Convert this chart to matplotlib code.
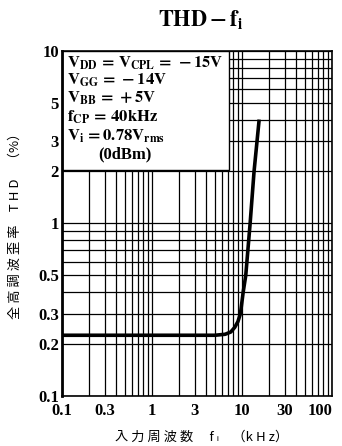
# THD vs input frequency chart

import matplotlib
matplotlib.use("Agg")
import matplotlib.pyplot as plt
from matplotlib.patches import Rectangle
from matplotlib.ticker import FixedLocator, NullFormatter

# curve
freq_khz = [0.1, 1, 5, 6.5, 7.5, 8.3, 9.0, 9.6, 10.3, 11.0, 12.3, 13.6, 15.5]
thd_pct = [0.225, 0.225, 0.225, 0.228, 0.235, 0.25, 0.27, 0.3, 0.4, 0.5, 1.0, 2.0, 4.0]

xticks = [0.1, 0.3, 1, 3, 10, 30, 100]
xticklabels = ["0.1", "0.3", "1", "3", "10", "30", "100"]
yticks = [0.1, 0.2, 0.3, 0.5, 1, 2, 3, 5, 10]
yticklabels = ["0.1", "0.2", "0.3", "0.5", "1", "2", "3", "5", "10"]

conditions = [r"$\mathbf{V_{DD}\,=\,V_{CPL}\,=\,-15V}$",
              r"$\mathbf{V_{GG}\,=\,-14V}$",
              r"$\mathbf{V_{BB}\,=\,+5V}$",
              r"$\mathbf{f_{CP}\,=\,40kHz}$",
              r"$\mathbf{V_i\,=0.78V_{rms}}$"]

plt.rcParams["mathtext.fontset"] = "stix"
serif = ["Liberation Serif", "DejaVu Serif"]
cjk = ["Noto Sans CJK JP", "DejaVu Sans"]

fig = plt.figure(figsize=(3.42, 4.46), dpi=100)
ax = fig.add_axes([0.181, 0.112, 0.790, 0.774])
ax.set_xscale("log")
ax.set_yscale("log")
ax.set_xlim(0.1, 100)
ax.set_ylim(0.1, 10)

# full log grid
minors_x = [m * 10 ** e for e in (-1, 0, 1) for m in range(1, 10)]
minors_y = [m * 10 ** e for e in (-1, 0) for m in range(1, 10)]
ax.xaxis.set_minor_locator(FixedLocator(minors_x))
ax.yaxis.set_minor_locator(FixedLocator(minors_y))
ax.xaxis.set_minor_formatter(NullFormatter())
ax.yaxis.set_minor_formatter(NullFormatter())
ax.grid(True, which="both", color="black", lw=0.9)
ax.set_axisbelow(True)

ax.set_xticks(xticks)
ax.set_xticklabels(xticklabels, family=serif, fontweight="bold", fontsize=12)
ax.get_xticklabels()[-1].set_ha("right")
ax.set_yticks(yticks)
ax.set_yticklabels(yticklabels, family=serif, fontweight="bold", fontsize=12)
ax.tick_params(which="both", length=0)
ax.tick_params(axis="x", pad=5)
ax.tick_params(axis="y", pad=2)
for s in ax.spines.values():
    s.set_linewidth(1.2)
ax.spines["left"].set_linewidth(2)

# conditions box covering the grid
ax.add_patch(Rectangle((0, 0.655), 0.62, 0.345, transform=ax.transAxes,
                       facecolor="white", edgecolor="black", lw=1, zorder=2))
ys = [0.966, 0.915, 0.862, 0.808, 0.752]
for t, y in zip(conditions, ys):
    ax.text(0.02, y, t, transform=ax.transAxes, fontsize=12, va="center",
            ha="left", zorder=3)
ax.text(0.235, 0.700, "(0dBm)", transform=ax.transAxes, fontsize=12,
        family=serif, fontweight="bold", va="center", ha="center", zorder=3)

ax.plot(freq_khz, thd_pct, color="black", lw=2.6, zorder=4,
        solid_capstyle="butt")

fig.text(0.585, 0.955, r"$\mathbf{THD-f_i}$", fontsize=16, ha="center",
         va="center")
fig.text(0.045, 0.50, "全 高 調 波 歪 率　T H D　（%）", family=cjk,
         fontsize=9.5, rotation=90, ha="center", va="center")
fig.text(0.59, 0.02, "入 力 周 波 数　 f ᵢ　（k H z）", family=cjk,
         fontsize=9.5, ha="center", va="center")

fig.savefig("out.png", dpi=100)
